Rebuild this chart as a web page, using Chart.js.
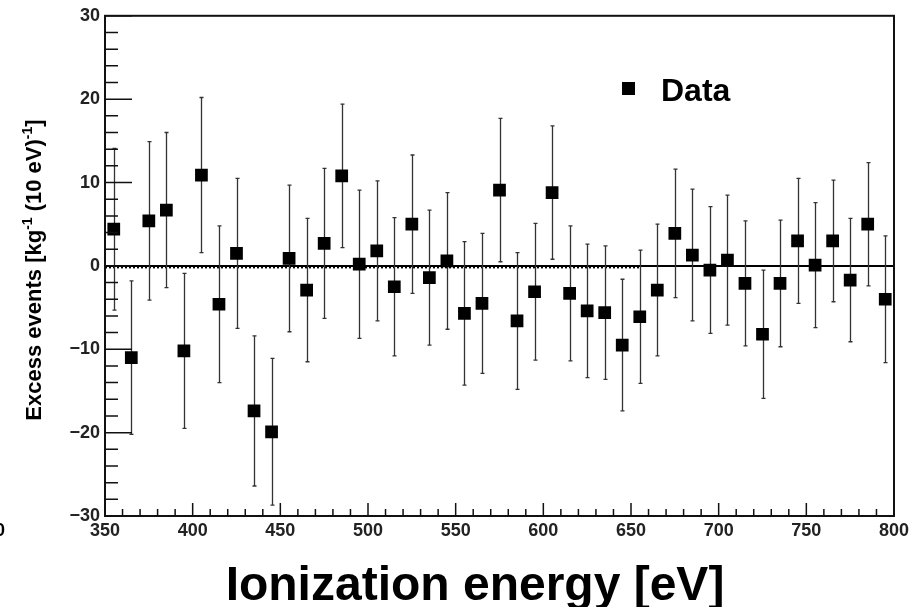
<!DOCTYPE html>
<html>
<head>
<meta charset="utf-8">
<script src="https://cdn.jsdelivr.net/npm/chart.js@4.4.1/dist/chart.umd.min.js"></script>
<style>
  html, body { margin: 0; padding: 0; background: #fff; }
  #wrap { width: 920px; height: 607px; }
</style>
</head>
<body>
<div id="wrap"><canvas id="myChart" width="920" height="607"></canvas></div>
<script>
'use strict'

// bin centres [eV]
const energies = [355, 365, 375, 385, 395, 405, 415, 425, 435, 445,
  455, 465, 475, 485, 495, 505, 515, 525, 535, 545,
  555, 565, 575, 585, 595, 605, 615, 625, 635, 645,
  655, 665, 675, 685, 695, 705, 715, 725, 735, 745,
  755, 765, 775, 785, 795];

// excess events [kg^-1 (10 eV)^-1]
const excess = [4.4, -11.0, 5.4, 6.7, -10.2, 10.9, -4.6, 1.5, -17.4, -19.9,
  0.9, -2.9, 2.7, 10.8, 0.2, 1.8, -2.5, 5.0, -1.4, 0.6,
  -5.7, -4.5, 9.1, -6.6, -3.1, 8.8, -3.3, -5.4, -5.6, -9.5,
  -6.1, -2.9, 3.9, 1.3, -0.5, 0.7, -2.1, -8.2, -2.1, 3.0,
  0.1, 3.0, -1.7, 5.0, -4.0];

const excessErr = [9.7, 9.2, 9.5, 9.3, 9.3, 9.3, 9.4, 9.0, 9.0, 8.8,
  8.8, 8.6, 9.0, 8.6, 8.9, 8.4, 8.3, 8.3, 8.1, 8.2,
  8.6, 8.4, 8.6, 8.2, 8.2, 8.0, 8.1, 8.0, 8.0, 7.9,
  8.0, 7.9, 7.7, 7.9, 7.6, 7.8, 7.5, 7.7, 7.6, 7.5,
  7.5, 7.3, 7.4, 7.4, 7.6];

const xTicks = [350, 400, 450, 500, 550, 600, 650, 700, 750, 800];
const yTicks = [-30, -20, -10, 0, 10, 20, 30];

const FONT = "'Liberation Sans', Arial, Helvetica, sans-serif";

const rootStyle = {
  id: 'rootStyle',
  beforeDatasetsDraw(chart) {
    const {ctx, chartArea: a, scales: {x, y}} = chart;
    ctx.save();
    const y0 = y.getPixelForValue(0);
    ctx.strokeStyle = '#000';
    ctx.lineWidth = 2;
    ctx.beginPath(); ctx.moveTo(a.left, y0); ctx.lineTo(a.right, y0); ctx.stroke();
    ctx.setLineDash([2, 2]);
    ctx.beginPath(); ctx.moveTo(a.left, y0 + 1.5); ctx.lineTo(x.getPixelForValue(655), y0 + 1.5); ctx.stroke();
    ctx.setLineDash([]);

    // error bars
    ctx.strokeStyle = '#333';
    ctx.lineWidth = 1.3;
    for (let i = 0; i < energies.length; i++) {
      const px = Math.round(x.getPixelForValue(energies[i])) + 0.5;
      const top = y.getPixelForValue(excess[i] + excessErr[i]);
      const bot = y.getPixelForValue(excess[i] - excessErr[i]);
      ctx.beginPath();
      ctx.moveTo(px, top); ctx.lineTo(px, bot);
      ctx.moveTo(px - 2, top); ctx.lineTo(px + 2, top);
      ctx.moveTo(px - 2, bot); ctx.lineTo(px + 2, bot);
      ctx.stroke();
    }
    ctx.restore();
  },
  afterDraw(chart) {
    const {ctx, chartArea: a, scales: {x, y}} = chart;
    ctx.save();
    ctx.strokeStyle = '#111';
    ctx.lineWidth = 2;
    ctx.strokeRect(a.left, a.top, a.right - a.left, a.bottom - a.top);

    // inner ticks
    ctx.lineWidth = 1.5;
    ctx.beginPath();
    for (let v = -30; v <= 30; v += 2) {
      const py = y.getPixelForValue(v);
      const len = v % 10 === 0 ? 27 : 13;
      ctx.moveTo(a.left, py); ctx.lineTo(a.left + len, py);
    }
    for (let v = 350; v <= 800; v += 10) {
      const px = x.getPixelForValue(v);
      const len = v % 50 === 0 ? 13 : 7;
      ctx.moveTo(px, a.bottom); ctx.lineTo(px, a.bottom - len);
    }
    ctx.stroke();

    // x title
    ctx.fillStyle = '#000';
    ctx.font = 'bold 48px ' + FONT;
    ctx.textAlign = 'center';
    ctx.textBaseline = 'alphabetic';
    ctx.fillText('Ionization energy [eV]', 475, 600);

    // y title with superscripts
    const parts = [['Excess events [kg', false], ['-1', true], [' (10 eV)', false], ['-1', true], [']', false]];
    const big = 'bold 22px ' + FONT, small = 'bold 14px ' + FONT;
    let total = 0;
    parts.forEach(p => { ctx.font = p[1] ? small : big; total += ctx.measureText(p[0]).width; });
    ctx.translate(41, 270);
    ctx.rotate(-Math.PI / 2);
    ctx.textAlign = 'left';
    let cx = -total / 2;
    parts.forEach(p => {
      ctx.font = p[1] ? small : big;
      ctx.fillText(p[0], cx, p[1] ? -9 : 0);
      cx += ctx.measureText(p[0]).width;
    });
    ctx.setTransform(1, 0, 0, 1, 0, 0);

    // legend
    ctx.fillRect(622, 82, 13, 13);
    ctx.font = 'bold 32px ' + FONT;
    ctx.textAlign = 'left';
    ctx.fillText('Data', 661, 101);

    // clipped label at the left edge
    ctx.font = 'bold 18px ' + FONT;
    ctx.textAlign = 'right';
    ctx.textBaseline = 'middle';
    ctx.fillText('0', 5, 531);
    ctx.restore();
  }
};

const tickFont = {family: FONT, size: 18, weight: 'bold'};

new Chart(document.getElementById('myChart'), {
  type: 'scatter',
  data: {
    datasets: [{
      label: 'Data',
      data: energies.map((e, i) => ({x: e, y: excess[i]})),
      pointStyle: 'rect',
      pointRadius: 9,
      pointHoverRadius: 9,
      backgroundColor: '#000',
      borderColor: '#000',
      borderWidth: 0
    }]
  },
  options: {
    responsive: false,
    animation: false,
    layout: {padding: {left: 0, top: 14, right: 26, bottom: 0}},
    plugins: {legend: {display: false}, tooltip: {enabled: false}},
    scales: {
      x: {
        type: 'linear', min: 350, max: 800,
        afterBuildTicks: s => { s.ticks = xTicks.map(v => ({value: v})); },
        afterFit: s => { s.height = 91; },
        grid: {display: false, drawTicks: false},
        border: {display: false},
        ticks: {color: '#222', font: tickFont, padding: 4, maxRotation: 0, autoSkip: false}
      },
      y: {
        type: 'linear', min: -30, max: 30,
        afterBuildTicks: s => { s.ticks = yTicks.map(v => ({value: v})); },
        afterFit: s => { s.width = 105; },
        grid: {display: false, drawTicks: false},
        border: {display: false},
        ticks: {color: '#222', font: tickFont, padding: 5, autoSkip: false,
          callback: v => String(v).replace('-', '\u2212')}
      }
    }
  },
  plugins: [rootStyle]
});
</script>
</body>
</html>
